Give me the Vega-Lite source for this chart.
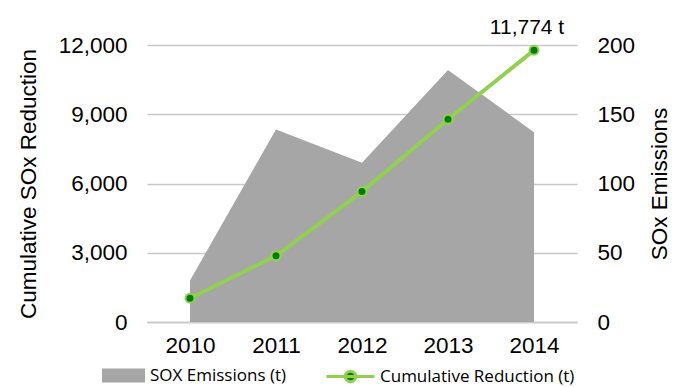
{
  "$schema": "https://vega.github.io/schema/vega-lite/v6.json",
  "width": 430,
  "height": 277,
  "autosize": "none",
  "padding": {"left": 147, "top": 45, "right": 101, "bottom": 65},
  "config": {
    "view": {"stroke": null},
    "font": "Liberation Sans",
    "axis": {
      "labelFont": "Liberation Sans",
      "labelFontSize": 22.5,
      "labelColor": "#000000",
      "titleFont": "Liberation Sans",
      "titleFontSize": 22.5,
      "titleFontWeight": "normal",
      "titleColor": "#000000",
      "ticks": false,
      "gridColor": "#C8C8C8",
      "gridWidth": 1.5,
      "domainColor": "#C8C8C8",
      "domainWidth": 1.5
    },
    "legend": {
      "orient": "none",
      "padding": 0,
      "labelFont": "Open Sans",
      "labelFontSize": 17,
      "labelColor": "#000000",
      "labelLimit": 400
    }
  },
  "data": {
    "values": [
      {"year": "2010", "emis": 30, "red": 1030},
      {"year": "2011", "emis": 139, "red": 2870},
      {"year": "2012", "emis": 115, "red": 5650},
      {"year": "2013", "emis": 182, "red": 8780},
      {"year": "2014", "emis": 137, "red": 11774, "label": "11,774 t"}
    ]
  },
  "encoding": {
    "x": {
      "field": "year",
      "type": "ordinal",
      "scale": {"type": "point", "padding": 0.5},
      "axis": {"title": null, "labelAngle": 0, "labelPadding": 12, "domain": true, "grid": false}
    }
  },
  "layer": [
    {
      "mark": {"type": "area", "color": "#A6A6A6", "opacity": 1},
      "encoding": {
        "y": {
          "field": "emis",
          "type": "quantitative",
          "scale": {"domain": [0, 200]},
          "axis": {"orient": "right", "title": "SOx Emissions", "titleAngle": 270, "titleBaseline": "top", "values": [0, 50, 100, 150, 200], "grid": false, "domain": false, "labelPadding": 20, "titlePadding": 14}
        },
        "color": {
          "datum": "SOX Emissions (t)",
          "scale": {"range": ["#A6A6A6"]},
          "legend": {
            "title": null,
            "legendX": -45,
            "legendY": 309,
            "symbolType": "M-1,-0.326H1V0.326H-1Z",
            "symbolSize": 1849,
            "symbolStrokeWidth": 0,
            "labelOffset": 5
          }
        }
      }
    },
    {
      "encoding": {
        "y": {
          "field": "red",
          "type": "quantitative",
          "scale": {"domain": [0, 12000]},
          "axis": {"orient": "left", "title": "Cumulative SOx Reduction", "values": [0, 3000, 6000, 9000, 12000], "format": ",.0f", "grid": true, "domain": false, "labelPadding": 20, "titlePadding": 18}
        }
      },
      "layer": [
        {
          "mark": {"type": "line", "strokeWidth": 4},
          "encoding": {
            "stroke": {
              "datum": "Cumulative Reduction (t)",
              "scale": {"range": ["#92D050"]},
              "legend": {
                "title": null,
                "legendX": 178,
                "legendY": 306,
                "symbolType": "M-1,0H1M-0.22,0A0.22,0.22,0,1,1,0.22,0A0.22,0.22,0,1,1,-0.22,0Z",
                "symbolSize": 2304,
                "symbolStrokeWidth": 3,
                "labelOffset": 4,
                "encode": {"symbols": {"update": {"fill": {"value": "#008000"}, "stroke": {"value": "#92D050"}, "strokeWidth": {"value": 3}}}}
              }
            }
          }
        },
        {
          "mark": {"type": "point", "filled": true, "fill": "#008000", "stroke": "#92D050", "strokeWidth": 2, "size": 81, "opacity": 1}
        },
        {
          "transform": [{"filter": "isValid(datum.label)"}],
          "mark": {"type": "text", "fontSize": 21, "dx": -7, "dy": -16, "baseline": "alphabetic", "align": "center", "color": "#000000"},
          "encoding": {"text": {"field": "label"}}
        }
      ]
    }
  ],
  "resolve": {"scale": {"y": "independent"}, "axis": {"y": "independent"}}
}
